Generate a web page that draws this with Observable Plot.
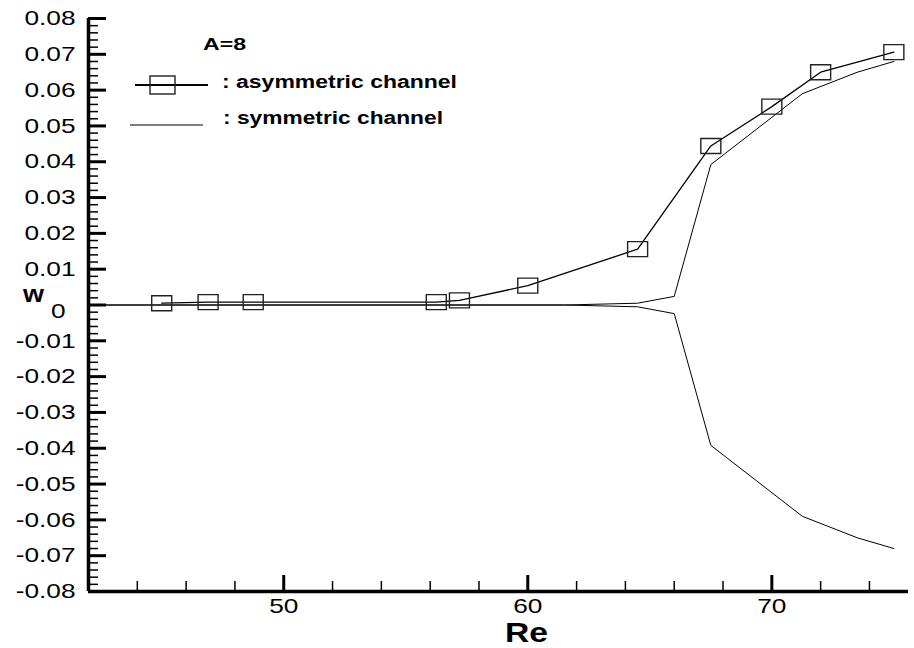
<!DOCTYPE html>
<html><head><meta charset="utf-8">
<script src="https://cdn.jsdelivr.net/npm/d3@7"></script>
<script src="https://cdn.jsdelivr.net/npm/@observablehq/plot@0.6"></script>
<style>
body{margin:0;background:#fff;}
#wrap{position:relative;width:914px;height:648px;background:#fff;}
#wrap svg{position:absolute;left:0;top:0;}
</style></head><body><div id="wrap"></div>
<script>
// ---- data ----
const reAsym = [45, 46.9, 48.75, 56.25, 57.2, 60, 64.5, 67.5, 70, 72, 75];
const wAsym  = [0.0005, 0.0008, 0.0008, 0.0008, 0.0013, 0.0054, 0.0156, 0.0444, 0.0554, 0.065, 0.0706];
const reSym  = [42, 61.5, 64.5, 66, 67.5, 71.25, 73.5, 75];
const wSymUp = [0, 0, 0.0005, 0.0024, 0.0392, 0.059, 0.065, 0.068];
const xTicks = [50, 60, 70];
const xMinor = [44, 46, 48, 52, 54, 56, 58, 62, 64, 66, 68, 72, 74];
const yTicks = [-0.08,-0.07,-0.06,-0.05,-0.04,-0.03,-0.02,-0.01,0,0.01,0.02,0.03,0.04,0.05,0.06,0.07,0.08];
const yMinor = d3.range(-40, 41).filter(i => i % 5 !== 0).map(i => i / 500);
const xDomain = [42, 75.6];
const yDomain = [-0.08, 0.08];
const legendTitle = "A=8";
const seriesNames = [": asymmetric channel", ": symmetric channel"];

const asym = reAsym.map((re, i) => ({re, w: wAsym[i]}));
const sym = [
  ...reSym.map((re, i) => ({re, w: wSymUp[i], branch: "upper"})),
  ...reSym.map((re, i) => ({re, w: -wSymUp[i], branch: "lower"}))
];

const rectSymbol = {draw(ctx) { ctx.moveTo(-10, -7.5); ctx.lineTo(10, -7.5); ctx.lineTo(10, 7.5); ctx.lineTo(-10, 7.5); ctx.closePath(); }};
const FONT = "'Liberation Sans', Arial, Helvetica, sans-serif";

const chart = Plot.plot({
  width: 914, height: 648,
  marginLeft: 88, marginRight: 6, marginTop: 18, marginBottom: 57,
  style: {fontFamily: FONT, background: "white", color: "#000", overflow: "visible"},
  x: {domain: xDomain},
  y: {domain: yDomain},
  marks: [
    Plot.line(sym, {x: "re", y: "w", z: "branch", stroke: "#000", strokeWidth: 1}),
    Plot.line(asym, {x: "re", y: "w", stroke: "#000", strokeWidth: 1.3}),
    Plot.dot(asym, {x: "re", y: "w", symbol: rectSymbol, stroke: "#222", strokeWidth: 1.4, fill: "none"}),
    // ticks (inside)
    Plot.axisY({ticks: yTicks, tickSize: -18, strokeWidth: 3, tickFormat: () => "", label: null}),
    Plot.axisY({ticks: yMinor, tickSize: -10, strokeWidth: 1.5, tickFormat: () => "", label: null}),
    Plot.axisX({ticks: xTicks, tickSize: -16, strokeWidth: 3, tickFormat: () => "", label: null}),
    Plot.axisX({ticks: xMinor, tickSize: -10, strokeWidth: 1.5, tickFormat: () => "", label: null}),
    // labels
    Plot.axisY({ticks: yTicks.filter(d => d !== 0), tickSize: 0, tickPadding: 13, fontSize: 21, tickFormat: d => d.toFixed(2), label: null}),
    Plot.axisY({ticks: [0], tickSize: 0, tickPadding: 23, dy: 6, fontSize: 21, tickFormat: () => "0", label: null}),
    Plot.axisX({ticks: xTicks, tickSize: 0, tickPadding: 7, fontSize: 21, tickFormat: d => String(d), label: null}),
    // axis lines
    Plot.ruleX([xDomain[0]], {stroke: "#000", strokeWidth: 3.5}),
    Plot.ruleY([yDomain[0]], {stroke: "#000", strokeWidth: 3.5})
  ]
});
const wrap = document.getElementById("wrap");
wrap.appendChild(chart);

// stretch tick labels horizontally like the original export
chart.querySelectorAll('g[aria-label="y-axis tick label"] text, g[aria-label="x-axis tick label"] text').forEach(t => {
  const L = t.getComputedTextLength();
  t.setAttribute("textLength", (L * 1.25).toFixed(1));
  t.setAttribute("lengthAdjust", "spacingAndGlyphs");
});

// overlay: axis titles and legend
const ov = d3.select(wrap).append("svg").attr("width", 914).attr("height", 648)
  .style("pointer-events", "none").attr("font-family", FONT).attr("font-weight", "bold");
ov.append("text").attr("x", 23).attr("y", 302).attr("font-size", 24)
  .attr("textLength", 21).attr("lengthAdjust", "spacingAndGlyphs").text("w");
ov.append("text").attr("x", 505).attr("y", 642).attr("font-size", 28)
  .attr("textLength", 43).attr("lengthAdjust", "spacingAndGlyphs").text("Re");
ov.append("text").attr("x", 203).attr("y", 50).attr("font-size", 16)
  .attr("textLength", 43).attr("lengthAdjust", "spacingAndGlyphs").text(legendTitle);
ov.append("line").attr("x1", 135).attr("x2", 208).attr("y1", 85).attr("y2", 85).attr("stroke", "#000").attr("stroke-width", 2.2);
ov.append("rect").attr("x", 150).attr("y", 76).attr("width", 25).attr("height", 18).attr("fill", "none").attr("stroke", "#222").attr("stroke-width", 1.4);
ov.append("text").attr("x", 222).attr("y", 88).attr("font-size", 18)
  .attr("textLength", 235).attr("lengthAdjust", "spacingAndGlyphs").text(seriesNames[0]);
ov.append("line").attr("x1", 130).attr("x2", 203).attr("y1", 125).attr("y2", 125).attr("stroke", "#000").attr("stroke-width", 1);
ov.append("text").attr("x", 223).attr("y", 124).attr("font-size", 18)
  .attr("textLength", 220).attr("lengthAdjust", "spacingAndGlyphs").text(seriesNames[1]);
</script></body></html>
